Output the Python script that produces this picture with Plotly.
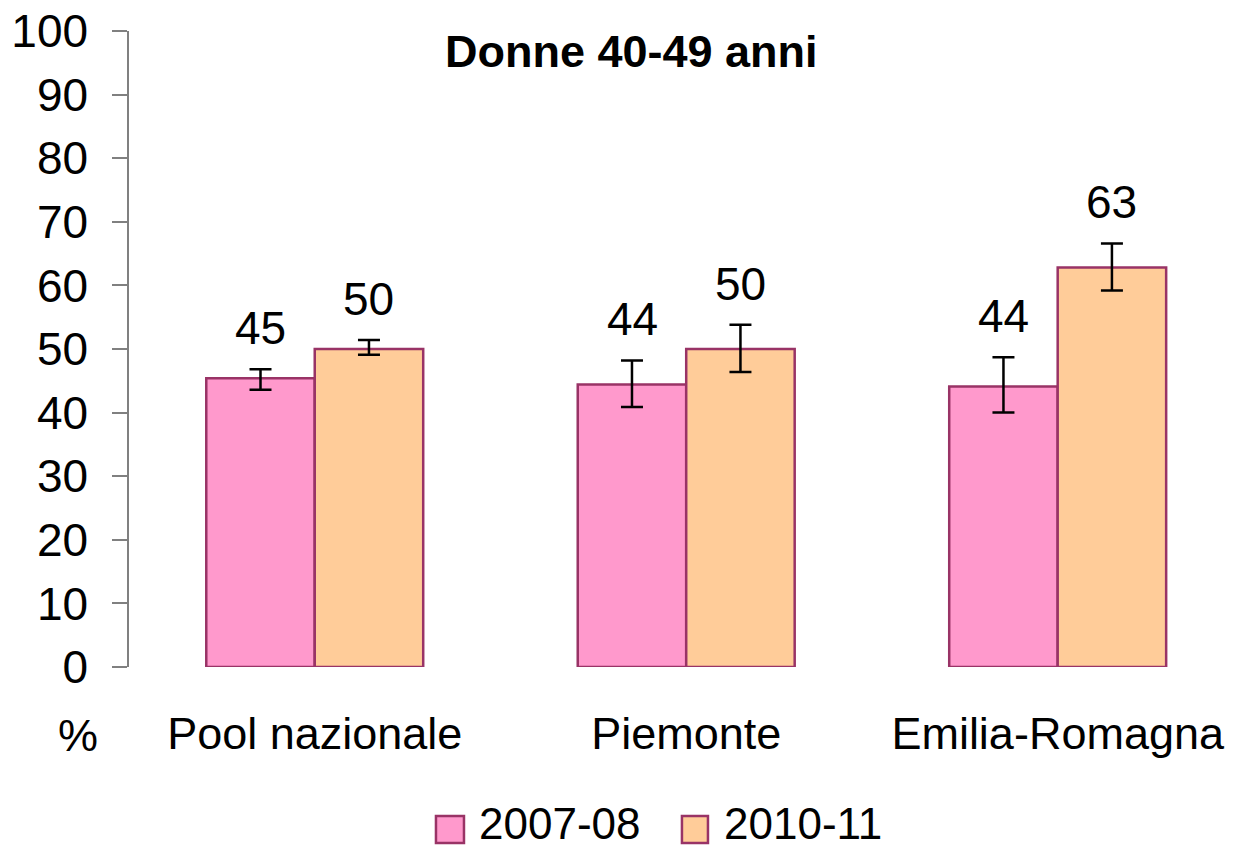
import plotly.graph_objects as go

# data
regioni = ["Pool nazionale", "Piemonte", "Emilia-Romagna"]
periodi = ["2007-08", "2010-11"]

val_2007 = [45.4, 44.4, 44.1]
err_hi_2007 = [46.8, 48.2, 48.7]
err_lo_2007 = [43.6, 40.9, 40.0]
etichette_2007 = ["45", "44", "44"]

val_2010 = [50.0, 50.0, 62.8]
err_hi_2010 = [51.4, 53.8, 66.6]
err_lo_2010 = [49.1, 46.4, 59.2]
etichette_2010 = ["50", "50", "63"]

FONT = "Arial, Liberation Sans, sans-serif"
ROSA = "#FF99CC"
PESCA = "#FFCC99"
BORDO = "#993366"

serie = [
    (periodi[0], val_2007, err_hi_2007, err_lo_2007, etichette_2007, ROSA, -54),
    (periodi[1], val_2010, err_hi_2010, err_lo_2010, etichette_2010, PESCA, 54),
]

fig = go.Figure()
annotations = []
shapes = []
# legend boxes drawn by hand so the squares can be as big as in the original
legend_x = [(0.2773, 0.3026, 0.3144), (0.4995, 0.5230, 0.5357)]

for (nome, vals, hi, lo, etich, colore, dx), (lx0, lx1, tx) in zip(serie, legend_x):
    fig.add_trace(go.Bar(
        x=regioni, y=vals, name=nome, showlegend=False,
        marker=dict(color=colore, line=dict(color=BORDO, width=2.5)),
        error_y=dict(
            type="data", symmetric=False,
            array=[h - v for h, v in zip(hi, vals)],
            arrayminus=[v - l for v, l in zip(vals, lo)],
            color="black", thickness=2.5, width=11,
        ),
    ))
    # value labels sit just above the upper error whisker
    for r, h, t in zip(regioni, hi, etich):
        annotations.append(dict(
            x=r, y=h, text=t, showarrow=False, xshift=dx, yshift=13,
            yanchor="bottom", font=dict(size=46, color="black", family=FONT),
        ))
    shapes.append(dict(
        type="rect", xref="paper", yref="paper",
        x0=lx0, x1=lx1, y0=-0.2768, y1=-0.2343,
        fillcolor=colore, line=dict(color=BORDO, width=2.5),
    ))
    annotations.append(dict(
        x=tx, y=-0.2455, xref="paper", yref="paper", text=nome,
        showarrow=False, xanchor="left", yanchor="middle",
        font=dict(size=44, color="black", family=FONT),
    ))

annotations.append(dict(
    x=0.4535, y=0.967, xref="paper", yref="paper", text="<b>Donne 40-49 anni</b>",
    showarrow=False, xanchor="center", yanchor="middle",
    font=dict(size=45, color="black", family=FONT),
))
annotations.append(dict(
    x=-0.046, y=-0.107, xref="paper", yref="paper", text="%",
    showarrow=False, xanchor="center", yanchor="middle",
    font=dict(size=45, color="black", family=FONT),
))

# the page body adds ~8px around the figure, so the figure is 8px smaller
fig.update_layout(
    width=1228, height=840,
    margin=dict(l=121, r=0, t=23, b=181, autoexpand=False),
    paper_bgcolor="white", plot_bgcolor="white",
    font=dict(family=FONT, size=45, color="black"),
    barmode="group", bargap=0.416, bargroupgap=0,
    showlegend=False,
    annotations=annotations,
    shapes=shapes,
)
fig.update_xaxes(
    range=[-0.5, 2.48], showline=False, showgrid=False, ticks="",
    tickfont=dict(size=45), ticklabelstandoff=36, automargin=False,
)
fig.update_yaxes(
    range=[0, 100], dtick=10, showgrid=False, zeroline=False,
    showline=True, linecolor="#808080", linewidth=1.5,
    ticks="outside", ticklen=15, tickcolor="#808080", tickwidth=1.5,
    tickfont=dict(size=46), ticklabelstandoff=15, automargin=False,
    ticklabeloverflow="allow",
)

fig.write_html("out.html")
